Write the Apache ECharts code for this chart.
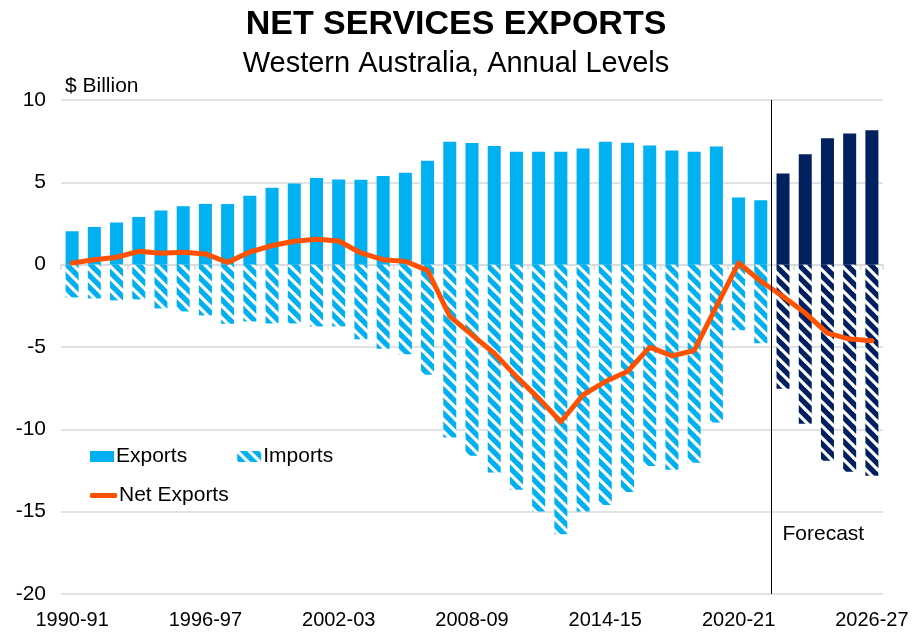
<!DOCTYPE html>
<html>
<head>
<meta charset="utf-8">
<script src="https://cdn.jsdelivr.net/npm/echarts@6/dist/echarts.min.js"></script>
<style>html,body{margin:0;padding:0;background:#fff}#c{width:912px;height:632px}</style>
</head>
<body>
<div id="c"></div>
<script>
const categories = ['1990-91','1991-92','1992-93','1993-94','1994-95','1995-96','1996-97','1997-98','1998-99','1999-00',
'2000-01','2001-02','2002-03','2003-04','2004-05','2005-06','2006-07','2007-08','2008-09','2009-10',
'2010-11','2011-12','2012-13','2013-14','2014-15','2015-16','2016-17','2017-18','2018-19','2019-20',
'2020-21','2021-22','2022-23','2023-24','2024-25','2025-26','2026-27'];
const exportsData = [2.03,2.29,2.56,2.90,3.29,3.55,3.69,3.68,4.18,4.67,4.93,5.26,5.17,5.15,5.38,5.58,6.31,7.47,7.39,7.20,
6.86,6.86,6.86,7.06,7.47,7.41,7.24,6.94,6.86,7.18,4.08,3.91,5.54,6.70,7.67,7.97,8.16];
const importsData = [-1.99,-2.05,-2.17,-2.11,-2.66,-2.84,-3.08,-3.59,-3.45,-3.57,-3.57,-3.75,-3.75,-4.53,-5.11,-5.44,-6.68,-10.49,-11.60,-12.62,
-13.67,-14.99,-16.37,-14.99,-14.59,-13.80,-12.23,-12.45,-12.03,-9.58,-3.98,-4.77,-7.53,-9.66,-11.91,-12.58,-12.82];
const netData = [0.10,0.30,0.45,0.81,0.69,0.75,0.65,0.14,0.77,1.16,1.42,1.54,1.44,0.71,0.30,0.20,-0.35,-3.14,-4.26,-5.38,
-6.80,-8.12,-9.54,-7.91,-7.10,-6.49,-5.01,-5.54,-5.21,-2.54,0.10,-1.01,-1.93,-2.94,-4.16,-4.52,-4.62];
const forecastFrom = '2022-23';
const yTicks = {min: -20, max: 10, interval: 5};

const LIGHT = '#00B0F0', NAVY = '#002060', ORANGE = '#FF5200', GRIDC = '#D9D9D9';
const FONT = "'Liberation Sans', Arial, sans-serif";

function stripes(color) {
  const s = 12;
  const c = document.createElement('canvas');
  c.width = s; c.height = s;
  const g = c.getContext('2d');
  g.fillStyle = color; g.fillRect(0, 0, s, s);
  g.strokeStyle = '#ffffff'; g.lineWidth = 3.2;
  for (const k of [-s, 0, s]) { g.beginPath(); g.moveTo(k - 2, -2); g.lineTo(k + s + 2, s + 2); g.stroke(); }
  return {image: c, repeat: 'repeat'};
}
const lightPat = stripes(LIGHT), navyPat = stripes(NAVY);
const fIdx = categories.indexOf(forecastFrom);

const chart = echarts.init(document.getElementById('c'), null, {renderer: 'canvas'});
chart.setOption({
  animation: false,
  textStyle: {fontFamily: FONT},
  title: [
    {text: 'NET SERVICES EXPORTS', subtext: 'Western Australia, Annual Levels', left: 'center', top: 3, itemGap: 7,
     textStyle: {fontFamily: FONT, fontSize: 34, fontWeight: 'bold', color: '#000'},
     subtextStyle: {fontFamily: FONT, fontSize: 29, color: '#000'}},
    {text: '$ Billion', left: 60, top: 71, textStyle: {fontFamily: FONT, fontSize: 21, fontWeight: 'normal', color: '#000'}}
  ],
  grid: {left: 61, right: 29, top: 100, bottom: 38},
  legend: [
    {data: ['Exports', 'Imports'], left: 85, top: 441, itemWidth: 24, itemHeight: 11, itemGap: 50, icon: 'rect',
     textStyle: {fontFamily: FONT, fontSize: 21, color: '#000', padding: [0, 0, 0, -3]}},
    {data: [{name: 'Net Exports', icon: 'roundRect'}], left: 85, top: 480, itemWidth: 27, itemHeight: 5,
     textStyle: {fontFamily: FONT, fontSize: 21, color: '#000', padding: [0, 0, 0, -3]}}
  ],
  xAxis: [
    {type: 'category', data: categories, boundaryGap: true,
     axisLine: {onZero: true, lineStyle: {color: GRIDC, width: 1.5}},
     axisTick: {show: true, length: 5, lineStyle: {color: GRIDC, width: 1.5}},
     axisLabel: {show: false}, splitLine: {show: false}},
    {type: 'category', data: categories, position: 'bottom', boundaryGap: true,
     axisLine: {show: false, onZero: false}, axisTick: {show: false},
     axisLabel: {interval: 5, color: '#000', fontSize: 20, fontFamily: FONT, margin: 16}}
  ],
  yAxis: {type: 'value', min: yTicks.min, max: yTicks.max, interval: yTicks.interval,
    axisLine: {show: false}, axisTick: {show: false},
    axisLabel: {color: '#000', fontSize: 21, fontFamily: FONT, margin: 15},
    splitLine: {lineStyle: {color: GRIDC, width: 1.5}}},
  series: [
    {name: 'Exports', type: 'bar', stack: 'a', barWidth: 13, itemStyle: {color: LIGHT},
     data: exportsData.map((v, i) => i >= fIdx ? {value: v, itemStyle: {color: NAVY}} : v)},
    {name: 'Imports', type: 'bar', stack: 'a', barWidth: 13, itemStyle: {color: lightPat},
     data: importsData.map((v, i) => i >= fIdx ? {value: v, itemStyle: {color: navyPat}} : v)},
    {name: 'Net Exports', type: 'line', data: netData, symbol: 'none', z: 5,
     lineStyle: {color: ORANGE, width: 5, cap: 'round', join: 'round'}, itemStyle: {color: ORANGE}}
  ]
});

const xa = chart.convertToPixel({xAxisIndex: 0}, categories[fIdx - 1]);
const xb = chart.convertToPixel({xAxisIndex: 0}, categories[fIdx]);
const xm = Math.round((xa + xb) / 2) - 0.5;
const yTop = chart.convertToPixel({yAxisIndex: 0}, yTicks.max);
const yBot = chart.convertToPixel({yAxisIndex: 0}, yTicks.min);
chart.setOption({
  graphic: [
    {type: 'line', shape: {x1: xm, y1: yTop, x2: xm, y2: yBot}, style: {stroke: '#000', lineWidth: 1}, z: 10},
    {type: 'text', x: xm + 11, y: yBot - 60, style: {text: 'Forecast', font: "21px 'Liberation Sans', Arial, sans-serif", fill: '#000', textVerticalAlign: 'middle'}, z: 10}
  ]
});
</script>
</body>
</html>
